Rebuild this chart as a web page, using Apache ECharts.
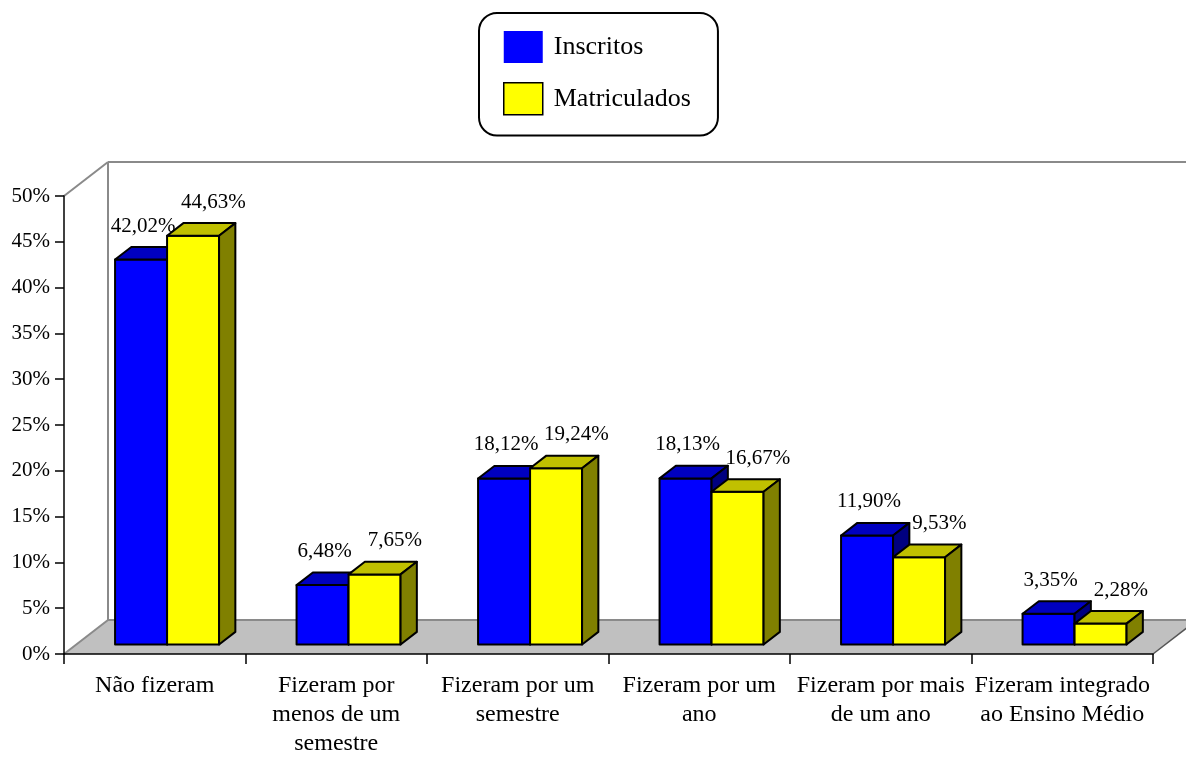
<!DOCTYPE html>
<html><head><meta charset="utf-8">
<script src="https://cdn.jsdelivr.net/npm/echarts@6/dist/echarts.min.js"></script>
<style>html,body{margin:0;padding:0;background:#fff}#c{width:1186px;height:758px}</style>
</head><body><div id="c"></div>
<script>
// ---- data ----
const categories = ['Não fizeram', 'Fizeram por\nmenos de um\nsemestre', 'Fizeram por um\nsemestre', 'Fizeram por um\nano', 'Fizeram por mais\nde um ano', 'Fizeram integrado\nao Ensino Médio'];
const seriesNames = ['Inscritos', 'Matriculados'];
const inscritos = [42.02, 6.48, 18.12, 18.13, 11.90, 3.35];
const matriculados = [44.63, 7.65, 19.24, 16.67, 9.53, 2.28];
const yMin = 0, yMax = 50, yStep = 5;

// ---- style / layout ----
const FONT = "'Liberation Serif','Times New Roman',serif";
const DEPTH_X = 44, DEPTH_Y = -34;       // floor depth vector
const BAR_FRONT = 0.28, BAR_DEPTH = 0.37; // fractions of depth
const BAR_W = 0.2865;                    // fraction of category width
const palettes = [
  {front: '#0000FF', top: '#0000C0', side: '#000080'},
  {front: '#FFFF00', top: '#C0C000', side: '#808000'}
];

function fmt(v) { return v.toFixed(2).replace('.', ',') + '%'; }

function geom(api, sIdx) {
  const i = api.value(0), v = api.value(1);
  const base = api.coord([i, 0]);
  const top = api.coord([i, v]);
  const bw = api.size([1, 0])[0] * BAR_W;
  const fx = DEPTH_X * BAR_FRONT, fy = DEPTH_Y * BAR_FRONT;
  const dx = DEPTH_X * BAR_DEPTH, dy = DEPTH_Y * BAR_DEPTH;
  const x0 = base[0] + fx + (sIdx === 0 ? -bw : 0);
  return {v, x0, x1: x0 + bw, bw, yb: base[1] + fy, yt: top[1] + fy, dx, dy};
}

function barRenderer(sIdx) {
  const c = palettes[sIdx];
  return function (params, api) {
    const g = geom(api, sIdx);
    const st = (fill) => ({fill, stroke: '#000', lineWidth: 2, lineJoin: 'round'});
    return {type: 'group', children: [
      {type: 'polygon', shape: {points: [[g.x0, g.yb], [g.x1, g.yb], [g.x1, g.yt], [g.x0, g.yt]]}, style: st(c.front)},
      {type: 'polygon', shape: {points: [[g.x0, g.yt], [g.x1, g.yt], [g.x1 + g.dx, g.yt + g.dy], [g.x0 + g.dx, g.yt + g.dy]]}, style: st(c.top)},
      {type: 'polygon', shape: {points: [[g.x1, g.yb], [g.x1 + g.dx, g.yb + g.dy], [g.x1 + g.dx, g.yt + g.dy], [g.x1, g.yt]]}, style: st(c.side)}
    ]};
  };
}

function labelRenderer(sIdx) {
  return function (params, api) {
    const g = geom(api, sIdx);
    const cx = sIdx === 0 ? g.x0 + g.bw / 2 + 2 : g.x0 + g.bw / 2 + g.dx + 4;
    return {type: 'text', x: cx, y: g.yt + g.dy - 21,
      style: {text: fmt(g.v), fill: '#000', fontSize: 21, fontFamily: FONT,
        align: 'center', verticalAlign: 'middle', textAlign: 'center', textVerticalAlign: 'middle'}};
  };
}

function wallsRenderer(params, api) {
  const cs = params.coordSys;
  const x = cs.x, y = cs.y, w = cs.width, h = cs.height;
  const fb = y + h;
  const line = (x1, y1, x2, y2) => ({type: 'line', shape: {x1, y1, x2, y2}, style: {stroke: '#8a8a8a', lineWidth: 2}});
  return {type: 'group', children: [
    {type: 'polygon', shape: {points: [[x, fb], [x + w, fb], [x + w + DEPTH_X, fb + DEPTH_Y], [x + DEPTH_X, fb + DEPTH_Y]]}, style: {fill: '#C0C0C0'}},
    line(x, fb, x + DEPTH_X, fb + DEPTH_Y),
    line(x + DEPTH_X, fb + DEPTH_Y, x + w + DEPTH_X, fb + DEPTH_Y),
    {type: 'line', shape: {x1: x + w, y1: fb, x2: x + w + DEPTH_X, y2: fb + DEPTH_Y}, style: {stroke: '#555', lineWidth: 1.5}},
    line(x + DEPTH_X, fb + DEPTH_Y, x + DEPTH_X, y + DEPTH_Y),
    line(x, y, x + DEPTH_X, y + DEPTH_Y),
    line(x + DEPTH_X, y + DEPTH_Y, x + w + DEPTH_X, y + DEPTH_Y)
  ]};
}

const toData = arr => arr.map((v, i) => [i, v]);
const seriesData = [inscritos, matriculados];

const series = [
  {type: 'custom', renderItem: wallsRenderer, data: [[0, 0]], z: 1, silent: true, clip: false}
];
seriesData.forEach((arr, s) => {
  series.push({type: 'custom', name: seriesNames[s], renderItem: barRenderer(s), data: toData(arr), z: 2 + s, silent: true, clip: false, encode: {x: 0, y: 1}});
});
seriesData.forEach((arr, s) => {
  series.push({type: 'custom', renderItem: labelRenderer(s), data: toData(arr), z: 5, silent: true, clip: false, encode: {x: 0, y: 1}});
});

const chart = echarts.init(document.getElementById('c'), null, {renderer: 'canvas'});
chart.setOption({
  animation: false,
  backgroundColor: '#fff',
  textStyle: {fontFamily: FONT},
  legend: {
    orient: 'vertical', left: 479, top: 13,
    padding: [18, 27, 20, 24],
    borderColor: '#000', borderWidth: 2, borderRadius: 18,
    itemWidth: 39, itemHeight: 32, itemGap: 19,
    textStyle: {fontSize: 26, fontFamily: FONT, color: '#000', padding: [0, 0, 0, 6]},
    data: [
      {name: seriesNames[0], icon: 'rect', itemStyle: {color: palettes[0].front, borderWidth: 0}},
      {name: seriesNames[1], icon: 'rect', itemStyle: {color: palettes[1].front, borderColor: '#000', borderWidth: 1.5}}
    ],
    selectedMode: false
  },
  grid: {left: 64, right: 33, top: 196, bottom: 101, containLabel: false},
  xAxis: {
    type: 'category', data: categories, boundaryGap: true, z: 6,
    axisLine: {lineStyle: {color: '#000', width: 1.5}},
    axisTick: {show: true, length: 10, lineStyle: {color: '#000', width: 1.5}},
    axisLabel: {fontSize: 24, fontFamily: FONT, color: '#000', lineHeight: 29, margin: 17, interval: 0}
  },
  yAxis: {
    type: 'value', min: yMin, max: yMax, interval: yStep, z: 6,
    axisLine: {show: true, lineStyle: {color: '#000', width: 1.5}},
    axisTick: {show: true, length: 9, lineStyle: {color: '#000', width: 1.5}},
    splitLine: {show: false},
    axisLabel: {formatter: '{value}%', fontSize: 21, fontFamily: FONT, color: '#000', margin: 14}
  },
  series
});
</script></body></html>
